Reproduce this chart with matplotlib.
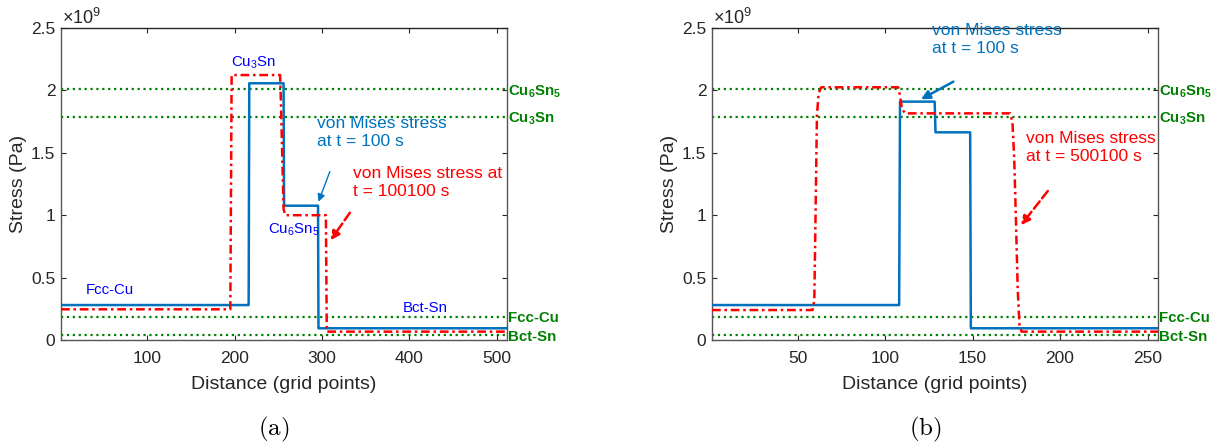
import numpy as np
import matplotlib
matplotlib.use("Agg")
import matplotlib.pyplot as plt
from matplotlib.ticker import FuncFormatter
import matplotlib.transforms as mtransforms

plt.rcParams["font.family"] = ["Liberation Sans", "DejaVu Sans"]
plt.rcParams["mathtext.fontset"] = "custom"
plt.rcParams["mathtext.rm"] = "Liberation Sans"
plt.rcParams["mathtext.it"] = "Liberation Sans:italic"
plt.rcParams["mathtext.bf"] = "Liberation Sans:bold"

SCALE = 1e9  # stresses below are in units of 1e9 Pa

# panel (a): t = 100 s and t = 100100 s
a_blue_x = [1, 216, 216.7, 256, 256.6, 295.5, 296, 512]
a_blue_y = [0.28, 0.28, 2.057, 2.057, 1.076, 1.076, 0.094, 0.094]
a_red_x = [1, 195, 196.5, 252, 253, 256, 258, 304.5, 305.5, 512]
a_red_y = [0.246, 0.246, 2.123, 2.123, 1.9, 1.05, 1.0, 1.0, 0.067, 0.067]

# panel (b): t = 100 s and t = 500100 s
b_blue_x = [1, 108, 108.5, 128.3, 128.8, 148.6, 149, 256]
b_blue_y = [0.28, 0.28, 1.91, 1.91, 1.664, 1.664, 0.094, 0.094]
b_red_x = [1, 58.5, 59.5, 60.2, 61, 62, 63.5, 107.5, 108.6, 109.6, 111.5,
           171.5, 172.8, 173.8, 174.8, 175.8, 176.8, 178, 256]
b_red_y = [0.24, 0.24, 0.32, 1.0, 1.8, 1.98, 2.025, 2.025, 1.95, 1.85, 1.816,
           1.816, 1.74, 1.45, 0.95, 0.4, 0.12, 0.067, 0.067]

# phase reference levels (dotted green)
phase_names = [r"Cu$_{\mathbf{6}}$Sn$_{\mathbf{5}}$", r"Cu$_{\mathbf{3}}$Sn", "Fcc-Cu", "Bct-Sn"]
phase_levels = [2.009, 1.787, 0.187, 0.04]

yticks = [0, 0.5, 1, 1.5, 2, 2.5]
a_xticks = [100, 200, 300, 400, 500]
b_xticks = [50, 100, 150, 200, 250]

mblue = "#0072BD"
green = "#008000"
axcol = "#262626"

fig = plt.figure(figsize=(12.19, 4.46), dpi=100)
ax_a = fig.add_axes([61 / 1219, 1 - 340 / 446, 446 / 1219, 312 / 446])
ax_b = fig.add_axes([712 / 1219, 1 - 340 / 446, 446 / 1219, 312 / 446])


def style(ax, xmax, xticks):
    ax.set_xlim(1, xmax)
    ax.set_ylim(0, 2.5 * SCALE)
    ax.set_xticks(xticks)
    ax.set_yticks([v * SCALE for v in yticks])
    ax.yaxis.set_major_formatter(FuncFormatter(lambda v, p: "%g" % (v / SCALE)))
    ax.tick_params(direction="in", length=3.5, width=0.8, top=True, right=True,
                   labelsize=12.5, colors=axcol)
    ax.tick_params(axis="x", pad=8)
    ax.tick_params(axis="y", pad=4)
    for s in ax.spines.values():
        s.set_color("#555555")
        s.set_linewidth(1.0)
    ax.spines["top"].set_color(axcol)
    ax.set_xlabel("Distance (grid points)", fontsize=14, color=axcol, labelpad=7)
    ax.set_ylabel("Stress (Pa)", fontsize=14, color=axcol, labelpad=3)
    ax.annotate(r"$\times10^{9}$", xy=(0, 1), xycoords="axes fraction",
                xytext=(1, 3), textcoords="offset points", ha="left", va="baseline",
                fontsize=13, color=axcol)
    trans = mtransforms.blended_transform_factory(ax.transAxes, ax.transData)
    for name, lvl in zip(phase_names, phase_levels):
        ax.axhline(lvl * SCALE, color=green, linestyle=":", linewidth=1.6, zorder=1)
        ax.text(1.003, lvl * SCALE, name, transform=trans, ha="left",
                va="center_baseline", fontsize=10.8, fontweight="bold", color=green,
                clip_on=False)


# ---- panel (a)
ax = ax_a
ax.plot(a_blue_x, np.array(a_blue_y) * SCALE, color=mblue, linewidth=1.8, zorder=3)
ax.plot(a_red_x, np.array(a_red_y) * SCALE, color="red", linewidth=1.8,
        linestyle=(0, (3.5, 1.5, 1, 1.5)), zorder=4)
style(ax, 512, a_xticks)
ax.text(221, 2.19 * SCALE, r"Cu$_3$Sn", color="blue", fontsize=10.8, ha="center", va="baseline")
ax.text(268, 0.85 * SCALE, r"Cu$_6$Sn$_5$", color="blue", fontsize=10.8, ha="center", va="baseline")
ax.text(57, 0.37 * SCALE, "Fcc-Cu", color="blue", fontsize=10.8, ha="center", va="baseline")
ax.text(418, 0.227 * SCALE, "Bct-Sn", color="blue", fontsize=10.8, ha="center", va="baseline")
ax.text(294, 1.554 * SCALE, "von Mises stress\nat t = 100 s", color=mblue, fontsize=12.5,
        ha="left", va="baseline", linespacing=1.25)
ax.text(335, 1.154 * SCALE, "von Mises stress at\nt = 100100 s", color="red", fontsize=12.5,
        ha="left", va="baseline", linespacing=1.25)
ax.annotate("", xy=(296, 1.108 * SCALE), xytext=(309, 1.349 * SCALE),
            arrowprops=dict(arrowstyle="-|>", color=mblue, lw=1.0, mutation_scale=11,
                            shrinkA=0, shrinkB=0))
ax.annotate("", xy=(310, 0.80 * SCALE), xytext=(332, 1.02 * SCALE),
            arrowprops=dict(arrowstyle="-|>", color="red", lw=1.8, linestyle="--",
                            mutation_scale=13, shrinkA=0, shrinkB=0))

# ---- panel (b)
ax = ax_b
ax.plot(b_blue_x, np.array(b_blue_y) * SCALE, color=mblue, linewidth=1.8, zorder=3)
ax.plot(b_red_x, np.array(b_red_y) * SCALE, color="red", linewidth=1.8,
        linestyle=(0, (3.5, 1.5, 1, 1.5)), zorder=4)
style(ax, 256, b_xticks)
ax.text(127, 2.302 * SCALE, "von Mises stress\nat t = 100 s", color=mblue, fontsize=12.5,
        ha="left", va="baseline", linespacing=1.25)
ax.text(180.3, 1.434 * SCALE, "von Mises stress\nat t = 500100 s", color="red", fontsize=12.5,
        ha="left", va="baseline", linespacing=1.25)
ax.annotate("", xy=(120.5, 1.929 * SCALE), xytext=(139, 2.07 * SCALE),
            arrowprops=dict(arrowstyle="-|>", color=mblue, lw=1.8, mutation_scale=13,
                            shrinkA=0, shrinkB=0))
ax.annotate("", xy=(177.7, 0.921 * SCALE), xytext=(193, 1.194 * SCALE),
            arrowprops=dict(arrowstyle="-|>", color="red", lw=1.8, linestyle="--",
                            mutation_scale=13, shrinkA=0, shrinkB=0))

fig.text(274 / 1219, 1 - 429 / 446, r"$\mathrm{(a)}$", math_fontfamily="cm",
         fontsize=18, ha="center", va="center")
fig.text(925 / 1219, 1 - 429 / 446, r"$\mathrm{(b)}$", math_fontfamily="cm",
         fontsize=18, ha="center", va="center")

fig.savefig("out.png", dpi=100)
